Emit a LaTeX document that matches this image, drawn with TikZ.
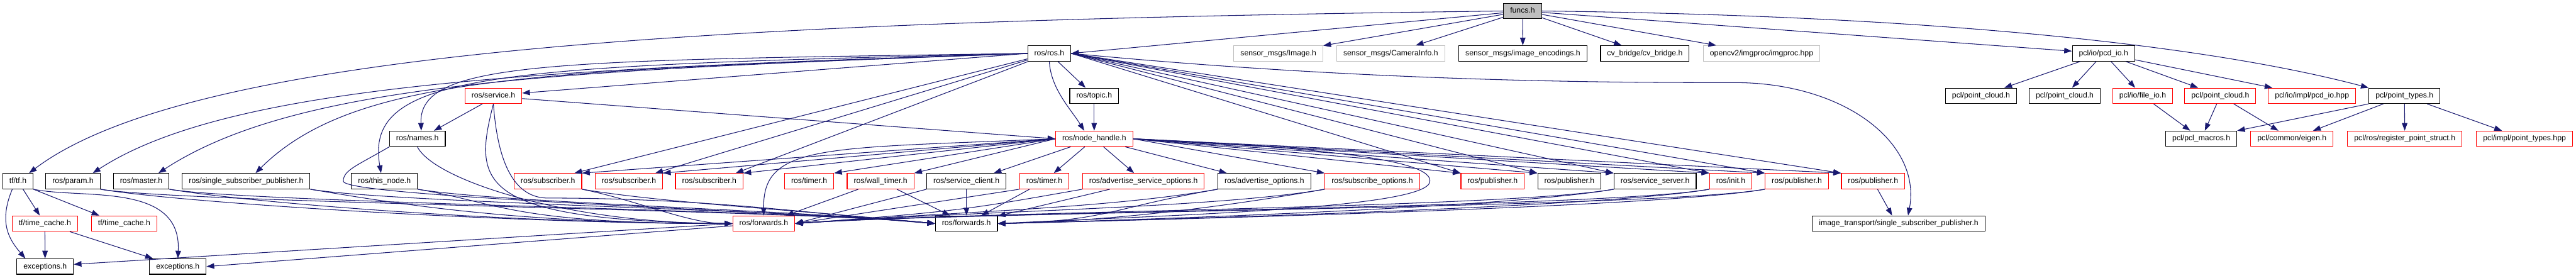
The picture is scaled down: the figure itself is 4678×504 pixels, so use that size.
\documentclass[tikz,border=0pt]{standalone}
\usepackage{fontspec}
\setmainfont{Liberation Sans}
\usetikzlibrary{arrows.meta}
\definecolor{edgeblue}{HTML}{191970}
\definecolor{boxgray}{HTML}{BFBFBF}

\begin{document}
\begin{tikzpicture}[x=1bp, y=-1bp,
    hdr/.style={draw=black, fill=white, line width=1.3bp, inner xsep=12bp, inner ysep=0pt,
      minimum height=28bp, text height=10.5bp, text depth=3bp,
      font=\fontsize{14bp}{16bp}\selectfont},
    hdrred/.style={hdr, draw=red},
    hdrgray/.style={hdr, draw=boxgray},
    dep/.style={draw=edgeblue, line width=1.2bp, -{Triangle[length=14bp, width=10bp]}}]
\useasboundingbox (0,0) rectangle (4678,504);

\node[hdr, fill=boxgray] (funcs) at (2765,20) {funcs.h};

\node[hdr] (rosros) at (1905.5,97) {ros/ros.h};
\node[hdrgray] (sensimg) at (2321.5,97) {sensor\_msgs/Image.h};
\node[hdrgray] (caminfo) at (2525.5,97) {sensor\_msgs/CameraInfo.h};
\node[hdr] (imgenc) at (2765.5,97) {sensor\_msgs/image\_encodings.h};
\node[hdr] (cvbridge) at (2987,97) {cv\_bridge/cv\_bridge.h};
\node[hdrgray] (imgproc) at (3199,97) {opencv2/imgproc/imgproc.hpp};
\node[hdr] (pcdio) at (3820,97) {pcl/io/pcd\_io.h};

\node[hdrred] (service) at (896,174) {ros/service.h};
\node[hdr] (topic) at (1987,174) {ros/topic.h};
\node[hdr] (pcloudA) at (3597.5,174) {pcl/point\_cloud.h};
\node[hdr] (pcloudB) at (3749.5,174) {pcl/point\_cloud.h};
\node[hdrred] (fileio) at (3891,174) {pcl/io/file\_io.h};
\node[hdrred] (pcloudC) at (4032,174) {pcl/point\_cloud.h};
\node[hdrred] (pcdhpp) at (4198.5,174) {pcl/io/impl/pcd\_io.hpp};
\node[hdr] (ptypes) at (4366.5,174) {pcl/point\_types.h};

\node[hdr] (names) at (758,252) {ros/names.h};
\node[hdrred] (nhandle) at (1987,252) {ros/node\_handle.h};
\node[hdr] (macros) at (3997.5,252) {pcl/pcl\_macros.h};
\node[hdrred] (eigen) at (4162,252) {pcl/common/eigen.h};
\node[hdrred] (regstruct) at (4367,252) {pcl/ros/register\_point\_struct.h};
\node[hdrred] (ptypeshpp) at (4584.5,252) {pcl/impl/point\_types.hpp};

\node[hdr] (tf) at (32.5,329) {tf/tf.h};
\node[hdr] (param) at (132.5,329) {ros/param.h};
\node[hdr] (master) at (256.5,329) {ros/master.h};
\node[hdr] (sspub) at (447,329) {ros/single\_subscriber\_publisher.h};
\node[hdr] (thisnode) at (698,329) {ros/this\_node.h};
\node[hdrred] (subA) at (995,329) {ros/subscriber.h};
\node[hdrred] (subB) at (1142,329) {ros/subscriber.h};
\node[hdrred] (subC) at (1288,329) {ros/subscriber.h};
\node[hdrred] (timerA) at (1469.5,329) {ros/timer.h};
\node[hdrred] (walltimer) at (1599,329) {ros/wall\_timer.h};
\node[hdr] (srvclient) at (1755,329) {ros/service\_client.h};
\node[hdrred] (timerB) at (1896.5,329) {ros/timer.h};
\node[hdrred] (advsrv) at (2076.5,329) {ros/advertise\_service\_options.h};
\node[hdr] (advopts) at (2296,329) {ros/advertise\_options.h};
\node[hdrred] (subopts) at (2492,329) {ros/subscribe\_options.h};
\node[hdrred] (pubA) at (2710.5,329) {ros/publisher.h};
\node[hdr] (pubB) at (2850,329) {ros/publisher.h};
\node[hdr] (srvserver) at (3005.5,329) {ros/service\_server.h};
\node[hdrred] (init) at (3143,329) {ros/init.h};
\node[hdrred] (pubC) at (3263,329) {ros/publisher.h};
\node[hdrred] (pubD) at (3401.5,329) {ros/publisher.h};

\node[hdrred] (tcacheA) at (81.5,406) {tf/time\_cache.h};
\node[hdrred] (tcacheB) at (225.5,406) {tf/time\_cache.h};
\node[hdrred] (fwdA) at (1387,406) {ros/forwards.h};
\node[hdr] (fwdB) at (1755,406) {ros/forwards.h};
\node[hdr] (itsspub) at (3448,406) {image\_transport/single\_subscriber\_publisher.h};

\node[hdr] (excA) at (82,484) {exceptions.h};
\node[hdr] (excB) at (323,484) {exceptions.h};

\draw[dep] (funcs.west) .. controls (1300,38) and (350,90) .. ([xshift=-8bp]tf.north east);
\draw[dep] (funcs) -- (rosros.east);
\foreach \t in {sensimg,caminfo,imgenc,cvbridge,imgproc,pcdio}
  \draw[dep] (funcs) -- (\t);
\draw[dep] (funcs.east) .. controls (3500,28) and (4000,80) .. (ptypes.north west);

\draw[dep] (rosros.west) .. controls (1000,125) and (420,150) .. ([xshift=-14bp]param.north east);
\draw[dep] (rosros.west) .. controls (1000,128) and (540,150) .. ([xshift=-20bp]master.north east);
\draw[dep] (rosros.west) .. controls (1000,130) and (650,130) .. ([xshift=17bp]sspub.north);
\draw[dep] (rosros.west) .. controls (900,120) and (660,130) .. ([xshift=-6bp]thisnode.north);
\draw[dep] (rosros.west) .. controls (1000,110) and (760,110) .. ([xshift=7bp]names.north);
\draw[dep] (rosros.west) -- ([yshift=5bp]service.east);
\foreach \t in {subA,subB,subC}
  \draw[dep] (rosros) -- ([xshift=-14bp]\t.north east);
\draw[dep] (rosros) -- (topic);
\draw[dep] (rosros.south) .. controls +(3,50) and +(-25,-40) .. ([xshift=-18bp]nhandle.north);
\foreach \t in {pubA,pubB,srvserver,init,pubC,pubD}
  \draw[dep] (rosros.east) -- (\t.north west);
\draw[dep] (rosros.east) .. controls (2500,150) and (2950,150) .. (3150,150)
  .. controls (3350,150) and (3490,260) .. ([xshift=17bp]itsspub.north);

\draw[dep] ([yshift=-5bp]service.east) -- (nhandle.west);
\draw[dep] ([xshift=-20bp]service.south) -- ([xshift=30bp]names.north);
\draw[dep] (service.south) .. controls (860,330) and (860,400) .. (fwdA.west);
\draw[dep] (service.south) .. controls +(8,110) and +(-60,0) .. ([yshift=-16bp]subA.south)
  .. controls +(300,0) and +(-200,-15) .. (fwdB.west);

\draw[dep] (names.south) .. controls +(30,60) and +(-300,0) .. (fwdA.west);
\draw[dep] (names.south west) .. controls +(-60,35) and +(0,-20) .. ([xshift=-14bp]thisnode.west)
  .. controls +(0,30) and +(-200,-20) .. (fwdB.west);

\foreach \s in {param,master,sspub,thisnode}{
  \draw[dep] (\s.south east) .. controls +(150,25) and +(-400,0) .. (fwdA.west);
  \draw[dep] (\s.south east) .. controls +(150,25) and +(-250,-25) .. (fwdB.west);
}
\draw[dep] (subA.south east) .. controls +(100,20) and +(-80,0) .. (fwdA.west);
\draw[dep] (subA.south east) .. controls +(150,25) and +(-250,-25) .. (fwdB.west);

\draw[dep] (topic) -- (nhandle);
\foreach \t in {subA,subB,subC,timerA,walltimer}
  \draw[dep] (nhandle.west) -- (\t.north east);
\draw[dep] (nhandle) -- ([xshift=-23bp]srvclient.north east);
\draw[dep] (nhandle) -- (timerB);
\draw[dep] (nhandle) -- (advsrv);
\draw[dep] (nhandle) -- ([xshift=17bp]advopts.north west);
\foreach \t in {subopts,pubA,pubB,srvserver,init,pubC,pubD}
  \draw[dep] (nhandle.east) -- (\t.north west);
\draw[dep] (nhandle.west) .. controls (1500,270) and (1385,260) .. (fwdA.north);
\draw[dep] (nhandle.east) .. controls (2450,270) and (2600,295) .. ([xshift=18bp]subopts.east)
  .. controls +(0,50) and +(300,-15) .. (fwdB.east);

\draw[dep] (walltimer) -- (fwdA);
\draw[dep] (walltimer) -- (fwdB);
\draw[dep] (srvclient.south west) -- (fwdA.east);
\draw[dep] (srvclient) -- (fwdB);
\draw[dep] (timerB.south west) -- (fwdA.east);
\draw[dep] (timerB) -- (fwdB);
\draw[dep] (advsrv.south west) .. controls +(-200,35) and +(300,-22) .. (fwdA.east);
\draw[dep] (advsrv) -- (fwdB);
\foreach \s in {advopts,subopts,srvserver,init,pubC}{
  \draw[dep] (\s.south west) .. controls +(-200,35) and +(300,-22) .. (fwdA.east);
  \draw[dep] (\s.south west) .. controls +(-200,35) and +(200,-5) .. (fwdB.east);
}
\draw[dep] (pubD) -- ([xshift=-12bp]itsspub.north);

\draw[dep] (fwdA.west) -- ([yshift=4bp]excA.east);
\draw[dep] ([yshift=-4bp]fwdA.west) -- (excB.east);

\draw[dep] (tf) -- (tcacheA);
\draw[dep] (tf.south east) -- ([xshift=15bp]tcacheB.north west);
\draw[dep] ([xshift=18bp]tf.south west) .. controls +(-25,60) and +(-30,-35) .. ([xshift=16bp]excA.north west);
\draw[dep] (tf.south east) .. controls (150,362) and (330,330) .. (excB.north);
\draw[dep] (tcacheA) -- (excA);
\draw[dep] (tcacheA) -- (excB);

\foreach \t in {pcloudA,pcloudB,fileio,pcloudC,pcdhpp}
  \draw[dep] (pcdio) -- (\t);
\draw[dep] (fileio) -- (macros);
\draw[dep] (pcloudC) -- (macros);
\draw[dep] (pcloudC) -- (eigen);
\draw[dep] (ptypes.south west) -- (macros.north east);
\foreach \t in {eigen,regstruct,ptypeshpp}
  \draw[dep] (ptypes) -- (\t);
\end{tikzpicture}
\end{document}
